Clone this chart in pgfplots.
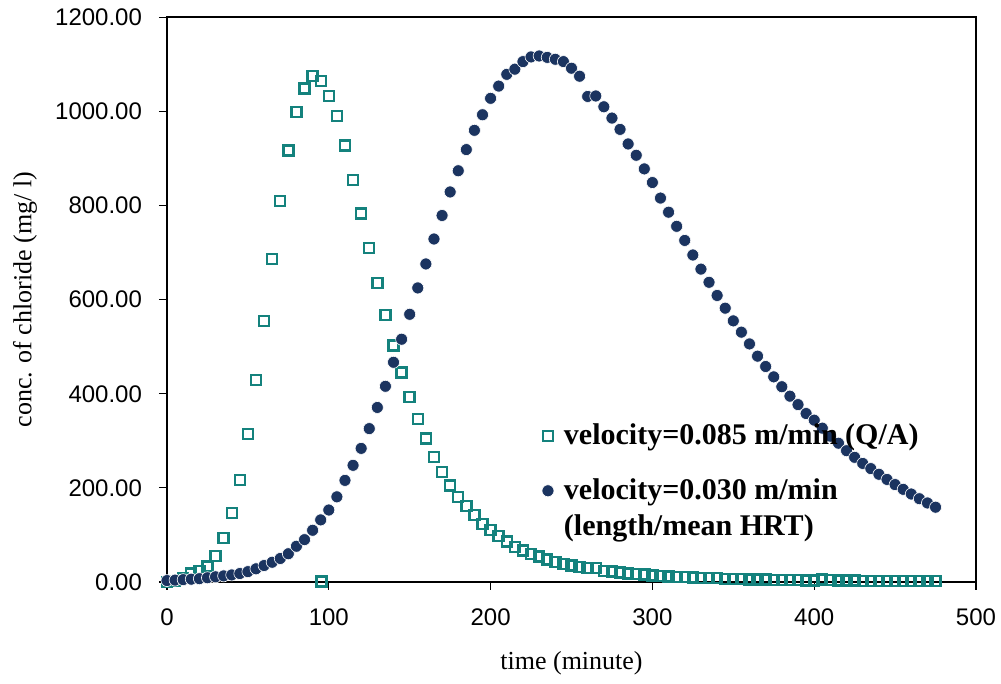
\documentclass[border=0pt]{standalone}
\usepackage{pgfplots}
\pgfplotsset{compat=1.18}
\usepackage{fontspec}
\setmainfont{Liberation Serif}
\newfontfamily\tickfont{Liberation Sans}
\definecolor{teal1}{RGB}{20,130,125}
\definecolor{navy1}{RGB}{27,52,96}
\begin{document}
\begin{tikzpicture}
\useasboundingbox (-83.5pt,-51pt) rectangle (417pt,291pt);
\begin{axis}[
  scale only axis,
  width=404.5pt, height=282.3pt,
  xmin=0, xmax=500, ymin=0, ymax=1200,
  xtick={0,100,200,300,400,500},
  ytick={0,200,400,600,800,1000,1200},
  axis line style={black, line width=1pt},
  tick style={black, line width=0.6pt},
  major tick length=4pt,
  tick align=outside,
  xtick pos=bottom, ytick pos=left,
  tick label style={font=\tickfont\fontsize{12}{14}\selectfont},
  /pgf/number format/assume math mode=true,
  yticklabel={\pgfmathprintnumber[fixed,fixed zerofill,precision=2,1000 sep={}]{\tick}},
  xticklabel style={yshift=-6pt},
  yticklabel style={xshift=-5pt},
  xlabel={time (minute)},
  ylabel={conc. of chloride (mg/ l)},
  label style={font=\fontsize{13}{15}\selectfont},
  xlabel style={at={(axis description cs:0.5,0)}, anchor=center, yshift=-40.5pt},
  ylabel style={at={(axis description cs:-0.1755,0.5)}, anchor=center, rotate=0},
  legend style={at={(axis cs:231.5,345)}, anchor=north west, draw=none, fill=none,
    font=\bfseries\fontsize{15}{18}\selectfont, row sep=11.5pt, column sep=3pt, inner sep=0pt},
  legend cell align=left,
]
\addplot[only marks, mark=square, mark size=2.5pt, mark options={teal1, line width=1.2pt}] coordinates {
(0,0) (5,2) (10,8) (15,18) (20,24) (25,33) (30,55) (35,93) (40,147) (45,217)
(50,315) (55,429) (60,555) (65,687) (70,810) (75,917) (80,999) (85,1049) (90,1075) (95,1065)
(100,1033) (105,990) (110,928) (115,854) (120,783) (125,710) (130,636) (135,567) (140,503) (145,445)
(150,393) (155,346) (160,305) (165,266) (170,234) (175,205) (180,181) (185,161) (190,142) (195,123)
(200,110) (205,98) (210,86) (215,75) (220,67) (225,60) (230,54) (235,48) (240,43) (245,38)
(250,35) (255,32) (260,30) (265,30) (270,24) (275,22) (280,20) (285,18) (290,17) (295,16)
(300,14) (305,13) (310,12) (315,11) (320,10) (325,9.5) (330,9) (335,8.5) (340,8) (345,7)
(350,6.5) (355,6) (360,5.5) (365,5) (370,5) (375,4.5) (380,4.5) (385,4) (390,4) (395,3.5)
(400,3.5) (405,5) (410,4.5) (415,3) (420,3) (425,3) (430,2.5) (435,2.5) (440,2.5) (445,2)
(450,2) (455,2) (460,2) (465,1.5) (470,1.5) (475,1.5)
};
\addlegendentry{velocity=0.085 m/min (Q/A)}
\addplot[only marks, mark=*, mark size=3pt, mark options={navy1, draw=white, line width=0.3pt}] coordinates {
(0,3) (5,4) (10,5) (15,6) (20,7) (25,9) (30,11) (35,13) (40,15) (45,18)
(50,22) (55,28) (60,35) (65,42) (70,50) (75,60) (80,76) (85,90) (90,110) (95,132)
(100,153) (105,181) (110,216) (115,248) (120,284) (125,326) (130,371) (135,416) (140,467) (145,516)
(150,569) (155,625) (160,676) (165,729) (170,779) (175,829) (180,874) (185,919) (190,960) (195,993)
(200,1028) (205,1054) (210,1079) (215,1090) (220,1106) (225,1116) (230,1118) (235,1115) (240,1111) (245,1106)
(250,1092) (255,1075) (260,1032) (265,1033) (270,1010) (275,986) (280,962) (285,931) (290,907) (295,878)
(300,849) (305,816) (310,786) (315,756) (320,726) (325,695) (330,665) (335,637) (340,609) (345,582)
(350,555) (355,531) (360,506) (365,480) (370,458) (375,436) (380,415) (385,395) (390,377) (395,358)
(400,344) (405,327) (410,310) (415,295) (420,279) (425,265) (430,252) (435,241) (440,229) (445,218)
(450,207) (455,197) (460,187) (465,177) (470,168) (475,159)
};
\addlegendentry{\parbox[t]{200pt}{velocity=0.030 m/min\\(length/mean HRT)}}
\addplot[only marks, mark=square, mark size=2.5pt, mark options={teal1, line width=1.2pt}, forget plot] coordinates {(95.5,1)};
\end{axis}
\end{tikzpicture}
\end{document}
